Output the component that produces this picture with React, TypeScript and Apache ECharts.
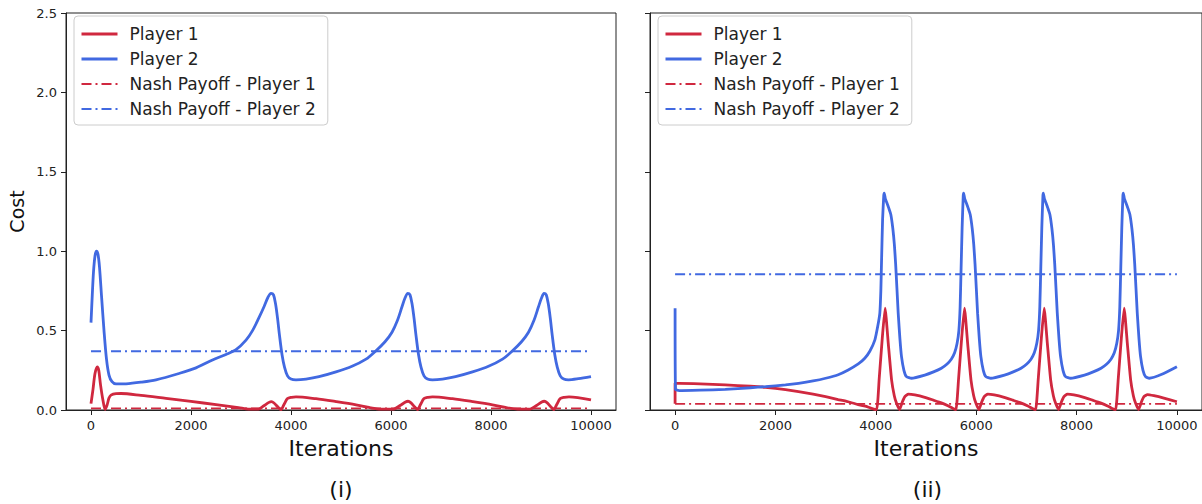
import React, { useEffect, useRef } from "react";
import * as echarts from "echarts";

// ---------- data ----------
const seriesNames = ["Player 1", "Player 2", "Nash Payoff - Player 1", "Nash Payoff - Player 2"];
const xTicks = [0, 2000, 4000, 6000, 8000, 10000];
const yTicks = [0, 0.5, 1.0, 1.5, 2.0, 2.5];
const panelLabels = ["(i)", "(ii)"];

// Panel (i)
const p1Left: number[][] = [
  [0, 0.04], [40, 0.13], [80, 0.23], [125, 0.272], [155, 0.25], [190, 0.16], [240, 0.06], [282, 0.004],
  [320, 0.03], [360, 0.075], [400, 0.094], [500, 0.103], [600, 0.104], [1000, 0.092], [1500, 0.073],
  [2000, 0.054], [2500, 0.034], [2950, 0.015], [3150, 0.006], [3350, 0.006], [3450, 0.025], [3560, 0.048],
  [3610, 0.053], [3660, 0.044], [3740, 0.018], [3800, 0.003], [3860, 0.035], [3930, 0.072], [4010, 0.08],
  [4100, 0.083], [4500, 0.071], [4900, 0.053], [5300, 0.033], [5560, 0.016], [5800, 0.006], [6050, 0.006],
  [6180, 0.028], [6290, 0.05], [6340, 0.055], [6400, 0.045], [6470, 0.02], [6530, 0.003], [6590, 0.035],
  [6660, 0.072], [6740, 0.08], [6830, 0.083], [7230, 0.071], [7630, 0.053], [8030, 0.033], [8290, 0.016],
  [8530, 0.006], [8780, 0.006], [8910, 0.028], [9015, 0.05], [9065, 0.055], [9125, 0.045], [9195, 0.02],
  [9255, 0.003], [9315, 0.035], [9385, 0.072], [9465, 0.08], [9560, 0.083], [10000, 0.063],
];
const p2Left: number[][] = [
  [0, 0.55], [25, 0.72], [50, 0.87], [80, 0.97], [110, 1.0], [140, 0.98], [170, 0.9], [210, 0.72],
  [260, 0.5], [310, 0.32], [360, 0.22], [420, 0.178], [500, 0.164], [700, 0.165], [1000, 0.175],
  [1300, 0.19], [1760, 0.23], [2100, 0.265], [2430, 0.315], [2700, 0.35], [2900, 0.38], [3100, 0.44],
  [3230, 0.5], [3350, 0.575], [3460, 0.65], [3540, 0.71], [3600, 0.735], [3650, 0.725], [3690, 0.67],
  [3730, 0.58], [3770, 0.47], [3820, 0.35], [3870, 0.27], [3930, 0.215], [4000, 0.195], [4100, 0.19],
  [4300, 0.195], [4560, 0.21], [4900, 0.24], [5220, 0.275], [5500, 0.32], [5690, 0.37], [5880, 0.43],
  [6020, 0.49], [6130, 0.565], [6220, 0.65], [6280, 0.705], [6335, 0.735], [6380, 0.725], [6420, 0.67],
  [6460, 0.58], [6500, 0.47], [6550, 0.35], [6600, 0.27], [6660, 0.215], [6730, 0.195], [6830, 0.19],
  [7030, 0.195], [7290, 0.21], [7630, 0.24], [7950, 0.275], [8230, 0.32], [8420, 0.37], [8610, 0.43],
  [8750, 0.49], [8860, 0.565], [8950, 0.65], [9010, 0.705], [9060, 0.735], [9105, 0.725], [9145, 0.67],
  [9185, 0.58], [9225, 0.47], [9275, 0.35], [9325, 0.27], [9385, 0.215], [9455, 0.195], [9550, 0.19],
  [9750, 0.197], [10000, 0.21],
];
const nash1Left = 0.01;
const nash2Left = 0.37;

// Panel (ii)
const p1Right: number[][] = [
  [0, 0.04], [0, 0.168], [80, 0.168], [500, 0.165], [1000, 0.158], [1500, 0.15], [1800, 0.143],
  [2200, 0.128], [2460, 0.116], [2750, 0.1], [3000, 0.084], [3250, 0.066], [3450, 0.052], [3650, 0.034],
  [3790, 0.024], [3900, 0.012], [4015, 0.002],
  [4068, 0.2], [4128, 0.45], [4185, 0.641], [4248, 0.42], [4314, 0.19], [4368, 0.09], [4413, 0.042],
  [4473, 0.003], [4528, 0.05], [4579, 0.084], [4648, 0.1], [4778, 0.095], [4976, 0.08], [5148, 0.062],
  [5306, 0.045], [5448, 0.025], [5538, 0.01], [5597, 0.002],
  [5650, 0.2], [5710, 0.45], [5767, 0.641], [5830, 0.42], [5896, 0.19], [5950, 0.09], [5995, 0.042],
  [6055, 0.003], [6110, 0.05], [6161, 0.084], [6230, 0.1], [6360, 0.095], [6558, 0.08], [6730, 0.062],
  [6888, 0.045], [7030, 0.025], [7120, 0.01], [7185, 0.002],
  [7238, 0.2], [7298, 0.45], [7355, 0.641], [7418, 0.42], [7484, 0.19], [7538, 0.09], [7583, 0.042],
  [7643, 0.003], [7698, 0.05], [7749, 0.084], [7818, 0.1], [7948, 0.095], [8146, 0.08], [8318, 0.062],
  [8476, 0.045], [8618, 0.025], [8708, 0.01], [8779, 0.002],
  [8832, 0.2], [8892, 0.45], [8949, 0.641], [9012, 0.42], [9078, 0.19], [9132, 0.09], [9177, 0.042],
  [9237, 0.003], [9292, 0.05], [9343, 0.084], [9412, 0.097], [9542, 0.09], [9740, 0.075], [10000, 0.052],
];
const p2Right: number[][] = [
  [0, 0.64], [8, 0.13], [80, 0.122], [500, 0.125], [1000, 0.13], [1500, 0.14], [1800, 0.147],
  [2200, 0.158], [2460, 0.168], [2750, 0.183], [3000, 0.2], [3250, 0.222], [3450, 0.252], [3650, 0.29],
  [3780, 0.326], [3880, 0.37], [3980, 0.44], [4040, 0.53], [4080, 0.61], [4100, 0.75], [4115, 0.95],
  [4135, 1.2], [4158, 1.35], [4168, 1.366], [4190, 1.33], [4220, 1.305], [4260, 1.27], [4300, 1.23],
  [4340, 1.14], [4370, 1.04], [4395, 0.92], [4420, 0.77], [4446, 0.61], [4480, 0.45], [4512, 0.336],
  [4560, 0.25], [4611, 0.21], [4711, 0.2],
  [4976, 0.22], [5150, 0.24], [5306, 0.263], [5420, 0.29], [5504, 0.32], [5570, 0.36], [5620, 0.42],
  [5655, 0.5], [5680, 0.65], [5700, 0.9], [5720, 1.15], [5742, 1.35], [5750, 1.366], [5772, 1.33],
  [5802, 1.305], [5842, 1.27], [5882, 1.23], [5922, 1.14], [5952, 1.04], [5977, 0.92], [6002, 0.77],
  [6028, 0.61], [6062, 0.45], [6094, 0.336], [6142, 0.25], [6193, 0.21], [6293, 0.2],
  [6564, 0.22], [6738, 0.24], [6894, 0.263], [7008, 0.29], [7092, 0.32], [7158, 0.36], [7208, 0.42],
  [7243, 0.5], [7268, 0.65], [7288, 0.9], [7308, 1.15], [7330, 1.35], [7338, 1.366], [7360, 1.33],
  [7390, 1.305], [7430, 1.27], [7470, 1.23], [7510, 1.14], [7540, 1.04], [7565, 0.92], [7590, 0.77],
  [7616, 0.61], [7650, 0.45], [7682, 0.336], [7730, 0.25], [7781, 0.21], [7881, 0.2],
  [8158, 0.22], [8332, 0.24], [8488, 0.263], [8602, 0.29], [8686, 0.32], [8752, 0.36], [8802, 0.42],
  [8837, 0.5], [8862, 0.65], [8882, 0.9], [8902, 1.15], [8924, 1.35], [8932, 1.366], [8954, 1.33],
  [8984, 1.305], [9024, 1.27], [9064, 1.23], [9104, 1.14], [9134, 1.04], [9159, 0.92], [9184, 0.77],
  [9210, 0.61], [9244, 0.45], [9276, 0.336], [9324, 0.25], [9375, 0.21], [9450, 0.2], [9700, 0.225],
  [10000, 0.273],
];
const nash1Right = 0.038;
const nash2Right = 0.855;

// ---------- styling ----------
const RED = "#d0283f";
const BLUE = "#4169e1";
const FONT = "DejaVu Sans";
const DASHDOT = [10, 4, 2, 4];

export default function App() {
  const ref = useRef<HTMLDivElement>(null);

  useEffect(() => {
    if (!ref.current) return;
    const chart = echarts.init(ref.current, undefined, { renderer: "svg" });

    const grids = [
      { left: 66, top: 13, width: 550, height: 397 },
      { left: 650, top: 13, width: 555, height: 397 },
    ];

    const xAxes = grids.map((_, i) => ({
      type: "value",
      gridIndex: i,
      min: -500,
      max: 10500,
      name: "Iterations",
      nameLocation: "middle",
      nameGap: 27,
      nameTextStyle: { fontFamily: FONT, fontSize: 22, color: "#111" },
      axisLine: { show: true, onZero: false, lineStyle: { color: "#222", width: 1 } },
      axisTick: { show: true, length: 5, customValues: xTicks, lineStyle: { color: "#222" } },
      axisLabel: {
        customValues: xTicks,
        margin: 9,
        fontFamily: FONT,
        fontSize: 13,
        color: "#222",
        formatter: (v: number) => String(v),
      },
      splitLine: { show: false },
    }));

    const yAxes = grids.map((_, i) => ({
      type: "value",
      gridIndex: i,
      min: yTicks[0],
      max: yTicks[yTicks.length - 1],
      interval: 0.5,
      name: i === 0 ? "Cost" : "",
      nameLocation: "middle",
      nameGap: 40,
      nameTextStyle: { fontFamily: FONT, fontSize: 19, color: "#111" },
      axisLine: { show: true, onZero: false, lineStyle: { color: "#222", width: 1 } },
      axisTick: { show: true, length: 5, lineStyle: { color: "#222" } },
      axisLabel: {
        show: i === 0,
        margin: 9,
        fontFamily: FONT,
        fontSize: 13,
        color: "#222",
        formatter: (v: number) => v.toFixed(1),
      },
      splitLine: { show: false },
    }));

    const panelData = [
      { p1: p1Left, p2: p2Left, n1: nash1Left, n2: nash2Left, smooth: 0.3 },
      { p1: p1Right, p2: p2Right, n1: nash1Right, n2: nash2Right, smooth: 0.15 },
    ];

    const series: any[] = [];
    panelData.forEach((pd, i) => {
      const common = {
        type: "line",
        xAxisIndex: i,
        yAxisIndex: i,
        symbol: "none",
        showSymbol: false,
        silent: true,
      };
      series.push({ ...common, name: seriesNames[0], data: pd.p1, smooth: pd.smooth, lineStyle: { color: RED, width: 2.8 }, itemStyle: { color: RED }, z: 3 });
      series.push({ ...common, name: seriesNames[1], data: pd.p2, smooth: pd.smooth, lineStyle: { color: BLUE, width: 2.8 }, itemStyle: { color: BLUE }, z: 3 });
      series.push({
        ...common,
        name: seriesNames[2],
        data: [[xTicks[0], pd.n1], [xTicks[xTicks.length - 1], pd.n1]],
        lineStyle: { color: RED, width: 1.8, type: DASHDOT },
        itemStyle: { color: RED },
        z: 2,
      });
      series.push({
        ...common,
        name: seriesNames[3],
        data: [[xTicks[0], pd.n2], [xTicks[xTicks.length - 1], pd.n2]],
        lineStyle: { color: BLUE, width: 1.8, type: DASHDOT },
        itemStyle: { color: BLUE },
        z: 2,
      });
    });

    const legendItems = [
      { name: seriesNames[0], lineStyle: { color: RED, width: 3 } },
      { name: seriesNames[1], lineStyle: { color: BLUE, width: 3 } },
      { name: seriesNames[2], lineStyle: { color: RED, width: 2, type: DASHDOT } },
      { name: seriesNames[3], lineStyle: { color: BLUE, width: 2, type: DASHDOT } },
    ];

    const legends = [74, 658].map((left) => ({
      show: true,
      orient: "vertical",
      left,
      top: 16,
      data: legendItems,
      itemWidth: 36,
      itemHeight: 14,
      itemGap: 7,
      padding: [9, 12, 7, 6],
      backgroundColor: "rgba(255,255,255,0.85)",
      borderColor: "#cccccc",
      borderWidth: 1,
      borderRadius: 4,
      selectedMode: false,
      itemStyle: { opacity: 0 },
      textStyle: { fontFamily: FONT, fontSize: 17, color: "#222", lineHeight: 18, padding: [0, 0, 0, 7] },
    }));

    chart.setOption({
      animation: false,
      backgroundColor: "#ffffff",
      textStyle: { fontFamily: FONT },
      grid: grids.map((g) => ({ ...g, show: true, borderColor: "#222", borderWidth: 1, backgroundColor: "transparent" })),
      xAxis: xAxes,
      yAxis: yAxes,
      legend: legends,
      series,
      graphic: panelLabels.map((t, i) => ({
        type: "text",
        x: grids[i].left + grids[i].width / 2,
        y: 489,
        style: {
          text: t,
          fontFamily: FONT,
          fontSize: 22,
          fill: "#111",
          textAlign: "center",
          textVerticalAlign: "middle",
        },
      })),
    });

    return () => chart.dispose();
  }, []);

  return (
    <div
      ref={ref}
      style={{ position: "absolute", left: 0, top: 0, width: 1202, height: 504, background: "#fff" }}
    />
  );
}
